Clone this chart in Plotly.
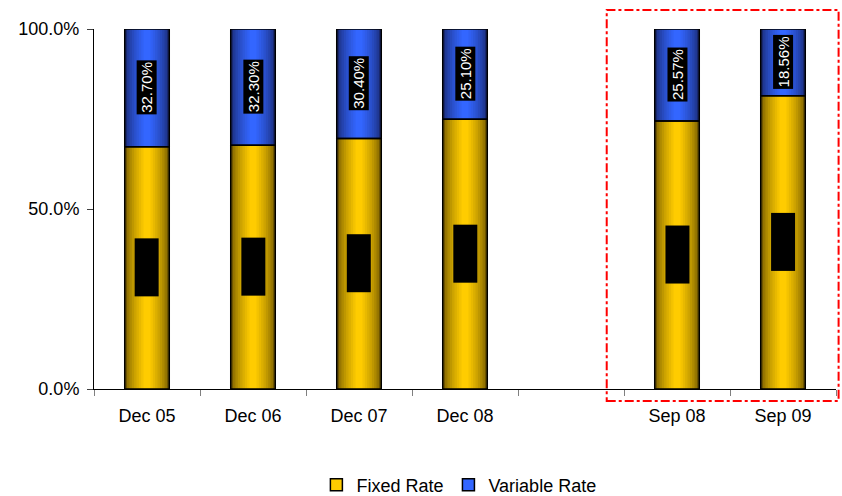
import plotly.graph_objects as go

categories = ["Dec 05", "Dec 06", "Dec 07", "Dec 08", " ", "Sep 08", "Sep 09"]
fixed_rate = [67.30, 67.70, 69.60, 74.90, None, 74.43, 81.44]
variable_rate = [32.70, 32.30, 30.40, 25.10, None, 25.57, 18.56]
tick_vals = [0, 50, 100]
tick_text = ["0.0%", "50.0%", "100.0%"]

FONT = "Liberation Sans, Arial, sans-serif"
BAR_W = 0.42


def lerp(c1, c2, t):
    return "rgb(%d,%d,%d)" % tuple(int(round(a + (b - a) * t)) for a, b in zip(c1, c2))


fixed_dark, fixed_light = (110, 85, 0), (255, 204, 0)
var_dark, var_light = (25, 40, 110), (51, 102, 255)

fig = go.Figure()
N = 9
base_fixed = [0 if v is not None else None for v in fixed_rate]
for i in range(N):
    t = (i / (N - 1)) ** 0.6
    w = BAR_W * (1 - i / N * 0.95)
    fig.add_trace(go.Bar(
        x=categories, y=fixed_rate, base=base_fixed, width=w,
        marker=dict(color=lerp(fixed_dark, fixed_light, t), line=dict(width=0)),
        showlegend=False, hoverinfo="skip"))
    fig.add_trace(go.Bar(
        x=categories, y=variable_rate, base=fixed_rate, width=w,
        marker=dict(color=lerp(var_dark, var_light, t), line=dict(width=0)),
        showlegend=False, hoverinfo="skip"))

# outlines on top
fig.add_trace(go.Bar(x=categories, y=fixed_rate, base=base_fixed, width=BAR_W,
                     marker=dict(color="rgba(0,0,0,0)", line=dict(color="black", width=1.5)),
                     showlegend=False, hoverinfo="skip"))
fig.add_trace(go.Bar(x=categories, y=variable_rate, base=fixed_rate, width=BAR_W,
                     marker=dict(color="rgba(0,0,0,0)", line=dict(color="black", width=1.5)),
                     showlegend=False, hoverinfo="skip"))

# legend entries
fig.add_trace(go.Bar(x=[None], y=[None], name="Fixed Rate",
                     marker=dict(color="#ffcc00", line=dict(color="black", width=1.5))))
fig.add_trace(go.Bar(x=[None], y=[None], name="Variable Rate",
                     marker=dict(color="#3366ff", line=dict(color="black", width=1.5))))

for c, f, v in zip(categories, fixed_rate, variable_rate):
    if f is None:
        continue
    fig.add_annotation(x=c, y=f / 2, text="%.2f%%" % f, textangle=-90, showarrow=False,
                       font=dict(family=FONT, size=15, color="black"), bgcolor="black",
                       borderpad=3)
    fig.add_annotation(x=c, y=f + v / 2, text="%.2f%%" % v, textangle=-90, showarrow=False,
                       font=dict(family=FONT, size=15, color="white"), bgcolor="black",
                       borderpad=1)

fig.add_shape(type="rect", xref="paper", yref="paper", x0=0.691, x1=1.0035, y0=-0.033, y1=1.053,
              line=dict(color="red", width=2, dash="dashdot"), layer="above")

fig.update_layout(
    barmode="overlay",
    width=842, height=496,
    margin=dict(l=94, r=6, t=29, b=107, autoexpand=False),
    paper_bgcolor="white", plot_bgcolor="white",
    font=dict(family=FONT, size=18, color="black"),
    xaxis=dict(categoryorder="array", categoryarray=categories, tickson="boundaries",
               ticks="outside", ticklen=6, tickcolor="#808080", showline=True,
               linecolor="black", linewidth=1, showgrid=False, range=[-0.5, 6.5],
               tickfont=dict(size=18), ticklabelstandoff=10),
    yaxis=dict(range=[0, 100], tickvals=tick_vals, ticktext=tick_text, ticks="outside",
               ticklen=6, tickcolor="#404040", showline=True, linecolor="black", linewidth=1,
               showgrid=False, zeroline=False, tickfont=dict(size=18), ticklabelstandoff=4),
    legend=dict(orientation="h", x=0.545, xanchor="center", xref="container",
                y=0.022, yanchor="middle", yref="container",
                font=dict(size=18), itemwidth=30, tracegroupgap=0),
)

fig.write_html("out.html", post_script="document.body.style.margin='0';",
               config={"displayModeBar": False})
